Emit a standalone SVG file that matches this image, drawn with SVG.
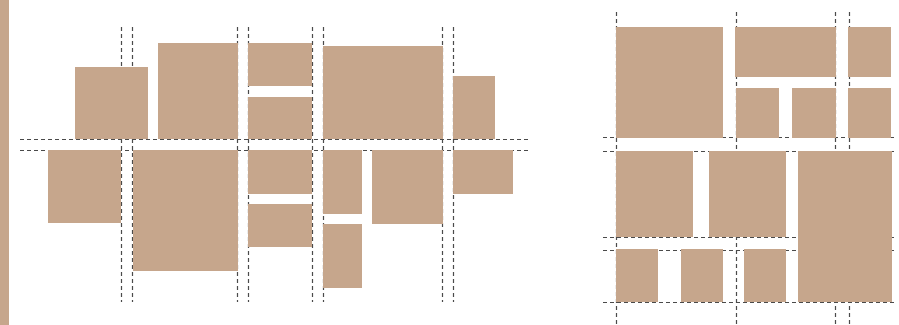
<svg xmlns="http://www.w3.org/2000/svg" width="899" height="325" viewBox="0 0 899 325">
<style>
.g{stroke:#4a4a4a;stroke-width:1.2;stroke-dasharray:4 3;fill:none}
.b{fill:#c6a68c}
</style>
<rect width="899" height="325" fill="#ffffff"/>
<rect class="b" x="0" y="0" width="9" height="325"/>
<g id="guides">
<path class="g" d="M121.5 27V302M132.5 27V302M237.5 27V302M248.5 27V302M312.5 27V302M323.5 27V302M442.5 27V302M453.5 27V302"/>
<path class="g" d="M20 139.5H530M20 150.5H530"/>
<path class="g" d="M616.5 12V325M736.5 12V325M835.5 12V325M849.5 12V325"/>
<path class="g" d="M603 137.5H897M603 151.5H897M603 237.5H897M603 250.5H897M603 302.5H897"/>
</g>
<g id="left">
<rect class="b" x="75" y="67" width="73" height="72"/>
<rect class="b" x="158" y="43" width="80" height="96"/>
<rect class="b" x="248" y="43" width="64" height="43"/>
<rect class="b" x="248" y="97" width="64" height="42"/>
<rect class="b" x="323" y="46" width="120" height="93"/>
<rect class="b" x="453" y="76" width="42" height="63"/>
<rect class="b" x="48" y="150" width="73" height="73"/>
<rect class="b" x="133" y="150" width="105" height="121"/>
<rect class="b" x="248" y="150" width="64" height="44"/>
<rect class="b" x="248" y="204" width="64" height="43"/>
<rect class="b" x="323" y="150" width="39" height="64"/>
<rect class="b" x="323" y="224" width="39" height="64"/>
<rect class="b" x="372" y="150" width="71" height="74"/>
<rect class="b" x="453" y="150" width="60" height="44"/>
</g>
<g id="right">
<rect class="b" x="616" y="27" width="107" height="111"/>
<rect class="b" x="735" y="27" width="101" height="50"/>
<rect class="b" x="848" y="27" width="43" height="50"/>
<rect class="b" x="736" y="88" width="43" height="50"/>
<rect class="b" x="792" y="88" width="44" height="50"/>
<rect class="b" x="848" y="88" width="43" height="50"/>
<rect class="b" x="616" y="151" width="77" height="86"/>
<rect class="b" x="709" y="151" width="77" height="86"/>
<rect class="b" x="798" y="151" width="94" height="151"/>
<rect class="b" x="616" y="249" width="42" height="53"/>
<rect class="b" x="681" y="249" width="42" height="53"/>
<rect class="b" x="744" y="249" width="42" height="53"/>
</g>
</svg>
